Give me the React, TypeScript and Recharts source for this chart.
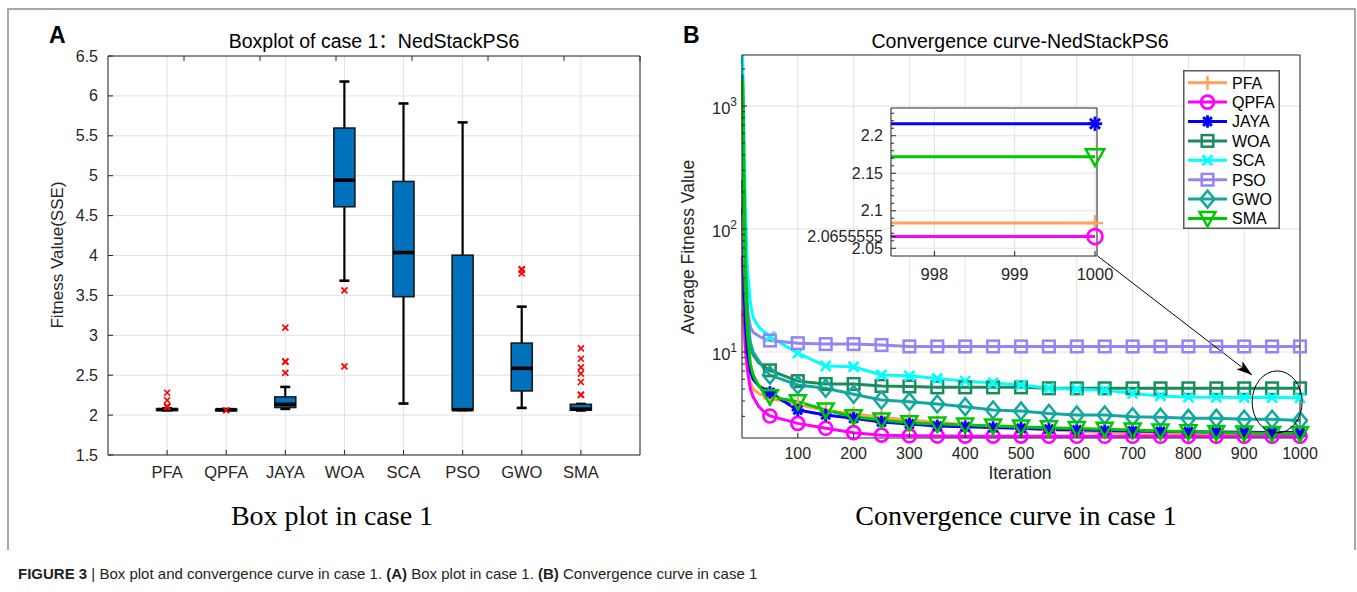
import React from 'react';
import {
  ComposedChart,
  LineChart,
  Line,
  Bar,
  Scatter,
  XAxis,
  YAxis,
  CartesianGrid,
  ReferenceLine,
  ReferenceDot,
} from 'recharts';

const SANS = '"Liberation Sans", Arial, Helvetica, "Noto Sans CJK SC", sans-serif';
const SERIF = '"Liberation Serif", "Times New Roman", serif';
const AXIS = '#262626';
const GRID = '#e2e2e2';

// ---------------- Panel A : box plot ----------------
const algorithms = ['PFA', 'QPFA', 'JAYA', 'WOA', 'SCA', 'PSO', 'GWO', 'SMA'];
const whiskerLow = [2.06, 2.063, 2.078, 3.684, 2.145, 2.063, 2.09, 2.058];
const quartile1 = [2.064, 2.065, 2.095, 4.611, 3.484, 2.066, 2.303, 2.062];
const medians = [2.07, 2.068, 2.135, 4.944, 4.037, 2.068, 2.586, 2.075];
const quartile3 = [2.078, 2.072, 2.228, 5.597, 4.928, 4.004, 2.902, 2.135];
const whiskerHigh = [2.085, 2.075, 2.353, 6.18, 5.905, 5.668, 3.359, 2.14];
const outlierAlgo = [
  'PFA', 'PFA', 'PFA', 'PFA', 'PFA',
  'QPFA',
  'JAYA', 'JAYA', 'JAYA', 'JAYA',
  'WOA', 'WOA',
  'GWO', 'GWO', 'GWO',
  'SMA', 'SMA', 'SMA', 'SMA', 'SMA', 'SMA', 'SMA',
];
const outlierValue = [
  2.28, 2.186, 2.11, 2.105, 2.1,
  2.06,
  3.097, 2.673, 2.668, 2.53,
  3.563, 2.61,
  3.775, 3.82, 3.83,
  2.835, 2.706, 2.598, 2.519, 2.415, 2.257, 2.252,
];
const boxTicks = [1.5, 2, 2.5, 3, 3.5, 4, 4.5, 5, 5.5, 6, 6.5];
const boxPositions = [1, 2, 3, 4, 5, 6, 7, 8];

// ---------------- Panel B : convergence curves ----------------
const iterations = [1, 3, 6, 10, 15, 20, 30, 40, 50, 100, 150, 200, 250, 300, 350, 400, 450, 500, 550, 600, 650, 700, 750, 800, 850, 900, 950, 1000];
const pfaCurve = [22, 16, 10, 7, 5.6, 5.0, 4.6, 4.4, 4.2, 3.75, 3.35, 3.15, 2.95, 2.8, 2.68, 2.56, 2.48, 2.4, 2.32, 2.27, 2.22, 2.18, 2.15, 2.13, 2.11, 2.1, 2.09, 2.0836];
const qpfaCurve = [60, 25, 11, 7, 5, 4.3, 3.6, 3.25, 3.02, 2.63, 2.4, 2.21, 2.11, 2.085, 2.075, 2.07, 2.069, 2.068, 2.067, 2.067, 2.066, 2.066, 2.066, 2.0656, 2.0656, 2.0656, 2.0656, 2.0655555];
const jayaCurve = [150, 45, 17, 10, 7, 6, 5.3, 5.0, 4.7, 3.38, 3.08, 2.89, 2.7, 2.6, 2.5, 2.47, 2.43, 2.4, 2.36, 2.33, 2.3, 2.28, 2.26, 2.25, 2.24, 2.23, 2.22, 2.216];
const woaCurve = [250, 80, 30, 15, 11, 9.5, 8.2, 7.6, 7.1, 5.8, 5.5, 5.5, 5.3, 5.25, 5.16, 5.16, 5.16, 5.16, 5.07, 5.07, 5.07, 5.07, 5.07, 5.07, 5.07, 5.07, 5.07, 5.07];
const scaCurve = [2600, 900, 150, 45, 25, 19, 16, 14.5, 13.3, 9.8, 7.7, 7.6, 6.5, 6.4, 6.1, 5.8, 5.6, 5.4, 5.07, 4.98, 4.9, 4.6, 4.4, 4.28, 4.28, 4.27, 4.26, 4.25];
const psoCurve = [130, 80, 40, 22, 16, 14.5, 13.5, 12.8, 12.4, 11.8, 11.6, 11.6, 11.4, 11.1, 11.1, 11.1, 11.1, 11.1, 11.1, 11.1, 11.1, 11.1, 11.1, 11.1, 11.1, 11.1, 11.1, 11.1];
const gwoCurve = [1800, 400, 60, 20, 12, 10, 8.5, 7.3, 6.5, 5.4, 5.07, 4.53, 4.07, 3.95, 3.78, 3.59, 3.38, 3.31, 3.17, 3.08, 3.08, 2.98, 2.95, 2.89, 2.89, 2.84, 2.84, 2.77];
const smaCurve = [1600, 300, 40, 14, 8, 6.5, 5.3, 4.7, 4.33, 3.95, 3.38, 2.98, 2.8, 2.66, 2.6, 2.55, 2.5, 2.46, 2.42, 2.39, 2.36, 2.32, 2.28, 2.25, 2.22, 2.2, 2.18, 2.172];

const seriesNames = ['PFA', 'QPFA', 'JAYA', 'WOA', 'SCA', 'PSO', 'GWO', 'SMA'];
const seriesValues = [pfaCurve, qpfaCurve, jayaCurve, woaCurve, scaCurve, psoCurve, gwoCurve, smaCurve];
const seriesColors = ['#FFA15C', '#FF00FF', '#0000FF', '#1A8C5B', '#00FFFF', '#9683F5', '#12A7A0', '#00C800'];
const seriesMarkers = ['plus', 'circle', 'asterisk', 'square', 'cross', 'square', 'diamond', 'triangle'];

const logMajorTicks = [10, 100, 1000];
const logAllTicks = [3, 4, 5, 6, 7, 8, 9, 10, 20, 30, 40, 50, 60, 70, 80, 90, 100, 200, 300, 400, 500, 600, 700, 800, 900, 1000, 2000];
const iterTicks = [100, 200, 300, 400, 500, 600, 700, 800, 900, 1000];

// zoomed inset
const insetIters = [997.46, 998, 999, 1000];
const insetSeries = ['JAYA', 'SMA', 'PFA', 'QPFA'];
const insetFinal = [2.216, 2.172, 2.0836, 2.0655555];
const insetLabelTicks = [2.05, 2.0655555, 2.1, 2.15, 2.2];
const insetMinorTicks = [2.06, 2.07, 2.08, 2.09, 2.11, 2.12, 2.13, 2.14, 2.16, 2.17, 2.18, 2.19, 2.21, 2.22, 2.23];
const insetXTicks = [998, 999, 1000];

// annotation (arrow + ellipse, in data units of panel B)
const arrowFrom = { x: 638, y: 60 };
const arrowTo = { x: 914, y: 6.5 };
const ellipseCenter = { x: 959, y: 3.93 };

const boxRows = algorithms.map((name, i) => ({
  pos: i + 1,
  name,
  range: [whiskerLow[i], whiskerHigh[i]],
  lo: whiskerLow[i],
  q1: quartile1[i],
  med: medians[i],
  q3: quartile3[i],
  hi: whiskerHigh[i],
}));
const outlierRows = outlierAlgo.map((a, i) => ({ pos: algorithms.indexOf(a) + 1, value: outlierValue[i] }));

const curveRows = iterations.map((it, i) => {
  const row: any = { iter: it };
  seriesNames.forEach((n, k) => {
    row[n] = seriesValues[k][i];
  });
  return row;
});

const insetRows = insetIters.map((it) => {
  const row: any = { iter: it };
  insetSeries.forEach((n, k) => {
    row[n] = insetFinal[k];
  });
  return row;
});

// ---------------- shapes ----------------
function Marker({ kind, cx, cy, color, s = 1 }: any) {
  switch (kind) {
    case 'plus':
      return (
        <g stroke={color} strokeWidth={2.4}>
          <line x1={cx - 7 * s} x2={cx + 7 * s} y1={cy} y2={cy} />
          <line x1={cx} x2={cx} y1={cy - 7 * s} y2={cy + 7 * s} />
        </g>
      );
    case 'circle':
      return <circle cx={cx} cy={cy} r={6.5 * s} fill="none" stroke={color} strokeWidth={2.7} />;
    case 'asterisk': {
      const r = 6.2 * s;
      const d = r * 0.7071;
      return (
        <g stroke={color} strokeWidth={2.9}>
          <line x1={cx - r} x2={cx + r} y1={cy} y2={cy} />
          <line x1={cx} x2={cx} y1={cy - r} y2={cy + r} />
          <line x1={cx - d} x2={cx + d} y1={cy - d} y2={cy + d} />
          <line x1={cx - d} x2={cx + d} y1={cy + d} y2={cy - d} />
        </g>
      );
    }
    case 'square':
      return (
        <rect x={cx - 5.8 * s} y={cy - 5.8 * s} width={11.6 * s} height={11.6 * s} fill="none" stroke={color} strokeWidth={2.5} />
      );
    case 'cross': {
      const r = 5 * s;
      return (
        <g stroke={color} strokeWidth={2.7}>
          <line x1={cx - r} x2={cx + r} y1={cy - r} y2={cy + r} />
          <line x1={cx - r} x2={cx + r} y1={cy + r} y2={cy - r} />
        </g>
      );
    }
    case 'diamond':
      return (
        <polygon
          points={`${cx},${cy - 8.5 * s} ${cx + 7 * s},${cy} ${cx},${cy + 8.5 * s} ${cx - 7 * s},${cy}`}
          fill="none"
          stroke={color}
          strokeWidth={2.5}
        />
      );
    case 'triangle':
      return (
        <polygon
          points={`${cx - 8 * s},${cy - 6.5 * s} ${cx + 8 * s},${cy - 6.5 * s} ${cx},${cy + 8 * s}`}
          fill="none"
          stroke={color}
          strokeWidth={2.5}
        />
      );
    default:
      return <g />;
  }
}

const makeDot = (k: number) => (props: any) => {
  const { cx, cy, payload, index } = props;
  if (cx == null || cy == null || !payload || payload.iter % 50 !== 0) return <g key={`d${k}-${index}`} />;
  return (
    <g key={`d${k}-${index}`}>
      <Marker kind={seriesMarkers[k]} cx={cx} cy={cy} color={seriesColors[k]} />
    </g>
  );
};

const makeInsetDot = (k: number) => (props: any) => {
  const { cx, cy, payload, index } = props;
  const si = seriesNames.indexOf(insetSeries[k]);
  if (cx == null || cy == null || !payload || payload.iter !== 1000) return <g key={`i${k}-${index}`} />;
  return (
    <g key={`i${k}-${index}`}>
      <Marker kind={seriesMarkers[si]} cx={cx} cy={cy} color={seriesColors[si]} s={1.15} />
    </g>
  );
};

function BoxShape(props: any) {
  const { x, y, width, height } = props;
  const p = props.payload || props;
  const top = Math.min(y, y + height);
  const bottom = Math.max(y, y + height);
  const span = p.hi - p.lo;
  const ppu = span > 0 ? (bottom - top) / span : 0;
  const py = (v: number) => top + (p.hi - v) * ppu;
  const cx = x + width / 2;
  const bw = 21;
  const cw = 10;
  const boxTop = py(p.q3);
  const boxH = Math.max(py(p.q1) - boxTop, 1.5);
  return (
    <g>
      <line x1={cx} x2={cx} y1={py(p.hi)} y2={py(p.lo)} stroke="#000" strokeWidth={2.2} />
      <line x1={cx - cw / 2} x2={cx + cw / 2} y1={py(p.hi)} y2={py(p.hi)} stroke="#000" strokeWidth={2.6} />
      <line x1={cx - cw / 2} x2={cx + cw / 2} y1={py(p.lo)} y2={py(p.lo)} stroke="#000" strokeWidth={2.6} />
      <rect x={cx - bw / 2} y={boxTop} width={bw} height={boxH} fill="#0072BD" stroke="#1a1a1a" strokeWidth={1.6} />
      <line x1={cx - bw / 2} x2={cx + bw / 2} y1={py(p.med)} y2={py(p.med)} stroke="#000" strokeWidth={3.6} />
    </g>
  );
}

function OutlierShape(props: any) {
  const { cx, cy } = props;
  if (cx == null) return <g />;
  const r = 3;
  return (
    <g stroke="#FF0000" strokeWidth={1.7}>
      <line x1={cx - r} x2={cx + r} y1={cy - r} y2={cy + r} />
      <line x1={cx - r} x2={cx + r} y1={cy + r} y2={cy - r} />
    </g>
  );
}

// ---------------- ticks ----------------
const leftTick = (opts: { margin: number; fontSize: number; labelSet?: number[]; fmt?: (v: number) => any; dy: number; major?: number[] }) =>
  (props: any) => {
    const { x, y, payload } = props;
    const v = payload.value;
    const axisX = x + opts.margin;
    const isLabel = !opts.labelSet || opts.labelSet.includes(v);
    const isMajor = !opts.major || opts.major.includes(v);
    return (
      <g>
        <line x1={axisX} x2={axisX + (isMajor ? 5 : 3)} y1={y} y2={y} stroke={AXIS} strokeWidth={1} />
        {isLabel && (
          <text x={x} y={y} dy={opts.dy} textAnchor="end" fontFamily={SANS} fontSize={opts.fontSize} fill={AXIS}>
            {opts.fmt ? opts.fmt(v) : String(v)}
          </text>
        )}
      </g>
    );
  };

const rightTick = (major?: number[]) => (props: any) => {
  const { x, y, payload } = props;
  const isMajor = !major || major.includes(payload.value);
  return <line x1={x} x2={x - (isMajor ? 5 : 3)} y1={y} y2={y} stroke={AXIS} strokeWidth={1} />;
};

const bottomTick = (opts: { fontSize: number; offset: number; fmt?: (v: number) => string }) => (props: any) => {
  const { x, y, payload } = props;
  return (
    <g>
      <line x1={x} x2={x} y1={y} y2={y - 5} stroke={AXIS} strokeWidth={1} />
      <text x={x} y={y + opts.offset} textAnchor="middle" fontFamily={SANS} fontSize={opts.fontSize} fill={AXIS}>
        {opts.fmt ? opts.fmt(payload.value) : String(payload.value)}
      </text>
    </g>
  );
};

const topTick = () => (props: any) => {
  const { x, y } = props;
  return <line x1={x} x2={x} y1={y} y2={y + 5} stroke={AXIS} strokeWidth={1} />;
};

const powLabel = (v: number) => (
  <>
    10
    <tspan dy={-8} fontSize={12}>
      {Math.round(Math.log10(v))}
    </tspan>
  </>
);

// ---------------- panels ----------------
function BoxPanel() {
  return (
    <ComposedChart width={680} height={500} data={boxRows} margin={{ top: 55, right: 39, bottom: 15, left: 63 }}>
      <CartesianGrid stroke={GRID} strokeWidth={1} />
      <XAxis
        dataKey="pos"
        type="number"
        domain={[0, 9]}
        ticks={boxPositions}
        interval={0}
        height={30}
        axisLine={{ stroke: AXIS }}
        tickLine={false}
        tickSize={0}
        tickMargin={0}
        tick={bottomTick({ fontSize: 16.5, offset: 23, fmt: (v) => algorithms[v - 1] })}
      />
      <XAxis xAxisId="T" orientation="top" type="number" domain={[0, 9]} ticks={boxPositions} interval={0} height={1} axisLine={{ stroke: AXIS }} tickLine={false} tickSize={0} tickMargin={0} tick={topTick()} />
      <YAxis
        type="number"
        domain={[1.5, 6.5]}
        ticks={boxTicks}
        interval={0}
        width={45}
        axisLine={{ stroke: AXIS }}
        tickLine={false}
        tickSize={0}
        tickMargin={10}
        tick={leftTick({ margin: 10, fontSize: 16, dy: 5.5 })}
      />
      <YAxis yAxisId="R" orientation="right" type="number" domain={[1.5, 6.5]} ticks={boxTicks} interval={0} width={1} axisLine={{ stroke: AXIS }} tickLine={false} tickSize={0} tickMargin={0} tick={rightTick()} />
      <Bar dataKey="range" barSize={21} shape={BoxShape} isAnimationActive={false} />
      <Scatter data={outlierRows} dataKey="value" shape={OutlierShape} isAnimationActive={false} />
    </ComposedChart>
  );
}

function CurvePanel() {
  return (
    <LineChart width={677} height={500} data={curveRows} margin={{ top: 54, right: 56, bottom: 32, left: 12 }}>
      <CartesianGrid stroke={GRID} strokeWidth={1} horizontal={false} />
      {logMajorTicks.map((t) => (
        <ReferenceLine key={t} y={t} stroke={GRID} strokeWidth={1} />
      ))}
      <XAxis
        dataKey="iter"
        type="number"
        domain={[0, 1000]}
        ticks={iterTicks}
        interval={0}
        height={30}
        axisLine={{ stroke: AXIS }}
        tickLine={false}
        tickSize={0}
        tickMargin={0}
        tick={bottomTick({ fontSize: 16, offset: 21 })}
      />
      <XAxis xAxisId="T" orientation="top" type="number" domain={[0, 1000]} ticks={iterTicks} interval={0} height={1} axisLine={{ stroke: AXIS }} tickLine={false} tickSize={0} tickMargin={0} tick={topTick()} />
      <YAxis
        type="number"
        scale="log"
        domain={[2, 2600]}
        ticks={logAllTicks}
        interval={0}
        width={50}
        axisLine={{ stroke: AXIS }}
        tickLine={false}
        tickSize={0}
        tickMargin={5}
        tick={leftTick({ margin: 5, fontSize: 16.5, dy: 7.5, labelSet: logMajorTicks, major: logMajorTicks, fmt: powLabel })}
      />
      <YAxis yAxisId="R" orientation="right" type="number" scale="log" domain={[2, 2600]} ticks={logAllTicks} interval={0} width={1} axisLine={{ stroke: AXIS }} tickLine={false} tickSize={0} tickMargin={0} tick={rightTick(logMajorTicks)} />
      {seriesNames.map((n, k) => (
        <Line
          key={n}
          type="linear"
          dataKey={n}
          stroke={seriesColors[k]}
          strokeWidth={3}
          dot={makeDot(k)}
          activeDot={false}
          isAnimationActive={false}
        />
      ))}
      <ReferenceLine segment={[arrowFrom, arrowTo]} stroke="#000" strokeWidth={1} markerEnd="url(#arrowHead)" />
      <ReferenceDot
        x={ellipseCenter.x}
        y={ellipseCenter.y}
        r={3}
        shape={(p: any) => <ellipse cx={p.cx} cy={p.cy} rx={25} ry={31} fill="none" stroke="#000" strokeWidth={1} />}
      />
    </LineChart>
  );
}

function InsetPanel() {
  return (
    <LineChart width={330} height={220} data={insetRows} margin={{ top: 17, right: 22, bottom: 24, left: 11 }}>
      <CartesianGrid stroke={GRID} strokeWidth={1} fill="#ffffff" fillOpacity={1} horizontal={false} />
      {insetLabelTicks.map((t) => (
        <ReferenceLine key={t} y={t} stroke={GRID} strokeWidth={1} />
      ))}
      <XAxis
        dataKey="iter"
        type="number"
        domain={[997.46, 1000.025]}
        ticks={insetXTicks}
        interval={0}
        height={30}
        axisLine={{ stroke: AXIS }}
        tickLine={false}
        tickSize={0}
        tickMargin={0}
        tick={bottomTick({ fontSize: 16.5, offset: 24 })}
      />
      <XAxis xAxisId="T" orientation="top" type="number" domain={[997.46, 1000.025]} ticks={insetXTicks} interval={0} height={1} axisLine={{ stroke: AXIS }} tickLine={false} tickSize={0} tickMargin={0} tick={topTick()} />
      <YAxis
        type="number"
        domain={[2.0397, 2.237]}
        ticks={[...insetLabelTicks, ...insetMinorTicks].sort((a, b) => a - b)}
        interval={0}
        width={90}
        axisLine={{ stroke: AXIS }}
        tickLine={false}
        tickSize={0}
        tickMargin={8}
        tick={leftTick({ margin: 8, fontSize: 16, dy: 5.5, labelSet: insetLabelTicks, major: insetLabelTicks })}
      />
      <YAxis yAxisId="R" orientation="right" type="number" domain={[2.0397, 2.237]} ticks={insetLabelTicks} interval={0} width={1} axisLine={{ stroke: AXIS }} tickLine={false} tickSize={0} tickMargin={0} tick={rightTick()} />
      {insetSeries.map((n, k) => {
        const si = seriesNames.indexOf(n);
        return (
          <Line
            key={n}
            type="linear"
            dataKey={n}
            stroke={seriesColors[si]}
            strokeWidth={3}
            dot={makeInsetDot(k)}
            activeDot={false}
            isAnimationActive={false}
          />
        );
      })}
    </LineChart>
  );
}

function LegendBox() {
  const w = 97;
  const h = 159;
  return (
    <svg width={w} height={h} style={{ position: 'absolute', left: 1183, top: 70 }}>
      <rect x={0.75} y={0.75} width={w - 1.5} height={h - 1.5} fill="#fff" stroke="#5a5a5a" strokeWidth={1.5} />
      {seriesNames.map((n, k) => {
        const cy = 12.7 + k * 19.4;
        return (
          <g key={n}>
            <line x1={5} x2={44} y1={cy} y2={cy} stroke={seriesColors[k]} strokeWidth={3} />
            <Marker kind={seriesMarkers[k]} cx={24.5} cy={cy} color={seriesColors[k]} />
            <text x={49} y={cy + 5.8} fontFamily={SANS} fontSize={16} fill="#000">
              {n}
            </text>
          </g>
        );
      })}
    </svg>
  );
}

function Overlay() {
  return (
    <svg width={1357} height={592} style={{ position: 'absolute', left: 0, top: 0 }}>
      <path d="M8,550 V9 H1355 V550" fill="none" stroke="#a8a8a8" strokeWidth={2} />
      <text x={49} y={43} fontFamily={SANS} fontWeight="bold" fontSize={23} fill="#000">A</text>
      <text x={683} y={43} fontFamily={SANS} fontWeight="bold" fontSize={23} fill="#000">B</text>
      <text x={374} y={47.5} textAnchor="middle" fontFamily={SANS} fontSize={19.5} fill="#000">Boxplot of case 1：NedStackPS6</text>
      <text x={1020} y={47.5} textAnchor="middle" fontFamily={SANS} fontSize={19.5} fill="#000">Convergence curve-NedStackPS6</text>
      <text x={0} y={0} transform="translate(63,255) rotate(-90)" textAnchor="middle" fontFamily={SANS} fontSize={17} fill={AXIS}>Fitness Value(SSE)</text>
      <text x={0} y={0} transform="translate(694,247) rotate(-90)" textAnchor="middle" fontFamily={SANS} fontSize={17.5} fill={AXIS}>Average Fitness Value</text>
      <text x={1020} y={479} textAnchor="middle" fontFamily={SANS} fontSize={17.5} fill={AXIS}>Iteration</text>
      <text x={332} y={525} textAnchor="middle" fontFamily={SERIF} fontSize={28} fill="#000">Box plot in case 1</text>
      <text x={1016} y={525} textAnchor="middle" fontFamily={SERIF} fontSize={28} fill="#000">Convergence curve in case 1</text>
      <text x={18} y={578.5} fontFamily={SANS} fontSize={15} fill="#231f20">
        <tspan fontWeight="bold">FIGURE 3</tspan>
        <tspan> | Box plot and convergence curve in case 1. </tspan>
        <tspan fontWeight="bold">(A)</tspan>
        <tspan> Box plot in case 1. </tspan>
        <tspan fontWeight="bold">(B)</tspan>
        <tspan> Convergence curve in case 1</tspan>
      </text>
    </svg>
  );
}

export default function App() {
  return (
    <div style={{ position: 'absolute', left: 0, top: 0, width: 1357, height: 592, background: '#fff', overflow: 'hidden' }}>
      <svg width={0} height={0} style={{ position: 'absolute' }}>
        <defs>
          <marker id="arrowHead" viewBox="0 0 16 10" refX="16" refY="5" markerWidth="16" markerHeight="10" markerUnits="userSpaceOnUse" orient="auto">
            <path d="M0,0 L16,5 L0,10 L4,5 Z" fill="#000" />
          </marker>
        </defs>
      </svg>
      <Overlay />
      <div style={{ position: 'absolute', left: 0, top: 0 }}>
        <BoxPanel />
      </div>
      <div style={{ position: 'absolute', left: 680, top: 0 }}>
        <CurvePanel />
      </div>
      <div style={{ position: 'absolute', left: 790, top: 90 }}>
        <InsetPanel />
      </div>
      <LegendBox />
    </div>
  );
}
